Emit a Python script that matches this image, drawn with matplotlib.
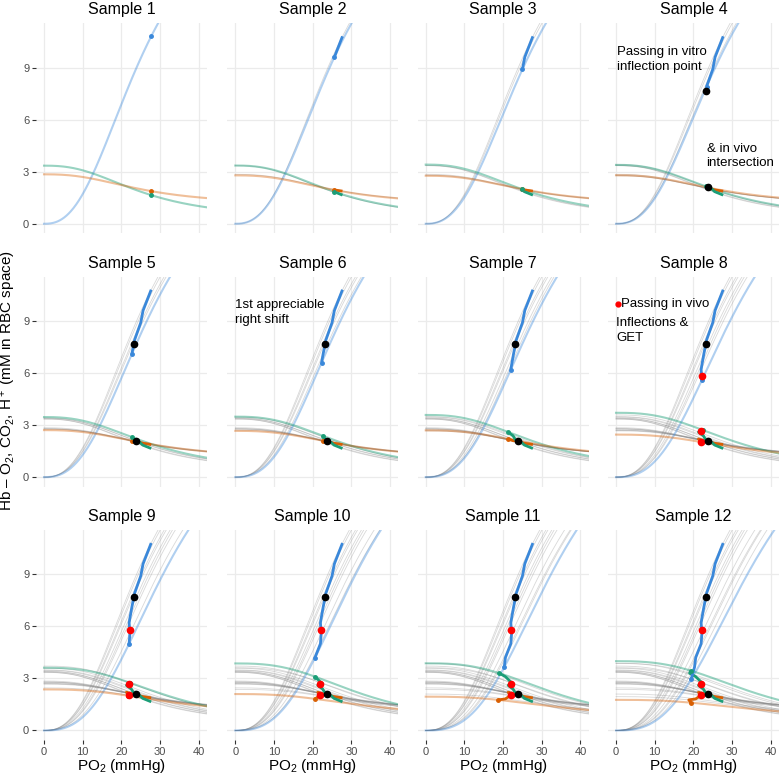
import numpy as np
import matplotlib
matplotlib.use("Agg")
import matplotlib.pyplot as plt

plt.rcParams['font.family'] = ['Liberation Sans', 'DejaVu Sans']
plt.rcParams['mathtext.fontset'] = 'custom'
plt.rcParams['mathtext.rm'] = 'Liberation Sans'
plt.rcParams['mathtext.it'] = 'Liberation Sans:italic'

samples = [f"Sample {i}" for i in range(1, 13)]

# in vivo points for each sample (PO2, content)
o2_po2 = [27.7, 25.6, 25.0, 23.4, 22.7, 22.3, 22.0, 22.2, 22.0, 20.6, 20.3, 19.4]
o2_val = [10.8, 9.6, 8.9, 7.9, 7.1, 6.6, 6.2, 5.6, 5.0, 4.2, 3.65, 2.94]
co2_po2 = [27.7, 25.5, 24.8, 23.2, 22.8, 22.6, 21.3, 22.6, 22.2, 20.6, 19.0, 19.4]
co2_val = [1.65, 1.85, 2.0, 2.15, 2.3, 2.38, 2.6, 2.7, 2.75, 3.1, 3.3, 3.44]
h_po2 = [27.7, 25.5, 24.8, 23.4, 22.8, 22.6, 21.3, 22.2, 21.8, 20.6, 18.8, 19.4]
h_val = [1.88, 1.95, 2.0, 2.1, 2.1, 2.1, 2.2, 2.02, 2.0, 1.82, 1.76, 1.6]

# Hill coefficient of each sample's dissociation curve
hill_n = [2.5, 2.5, 2.5, 2.5, 2.55, 2.6, 2.6, 2.65, 2.7, 2.75, 2.8, 2.8]
hb_max = 19.7          # mM heme in RBC
co2_drop = 0.925       # Haldane fraction for CO2
h_drop = 0.62          # Haldane fraction for H+

# marked points
vitro_inflection = (23.2, 7.67)
vivo_intersection = (23.8, 2.1)
vivo_infl_x = [22.1, 22.0, 22.0]
vivo_infl_y = [5.8, 2.65, 2.05]

blue = "#3A88DA"
green = "#1B9E77"
orange = "#D95F02"


def sat(p, p50, n):
    r = (p / p50) ** n
    return r / (1 + r)


# curve parameters for each sample so that its curves pass through its in vivo points
p50 = []
co2_0 = []
h_0 = []
for i in range(12):
    s = o2_val[i] / hb_max
    p = o2_po2[i] / (s / (1 - s)) ** (1 / hill_n[i])
    p50.append(p)
    co2_0.append(co2_val[i] / (1 - co2_drop * sat(co2_po2[i], p, hill_n[i])))
    h_0.append(h_val[i] / (1 - h_drop * sat(h_po2[i], p, hill_n[i])))

xs = np.linspace(0, 42.2, 300)

W, H = 779, 776
fig = plt.figure(figsize=(W / 100, H / 100), dpi=100)
lefts = [35.9, 227.2, 417.6, 607.9]
tops = [23.3, 276.7, 530.0]
pw, ph = 171, 210

for k in range(12):
    row, col = k // 4, k % 4
    ax = fig.add_axes([lefts[col] / W, 1 - (tops[row] + ph) / H, pw / W, ph / H])

    # earlier samples in grey
    for i in range(k):
        s = sat(xs, p50[i], hill_n[i])
        ax.plot(xs, hb_max * s, color="grey", alpha=0.3, lw=0.6)
        ax.plot(xs, co2_0[i] * (1 - co2_drop * s), color="grey", alpha=0.3, lw=0.6)
        ax.plot(xs, h_0[i] * (1 - h_drop * s), color="grey", alpha=0.3, lw=0.6)

    # current sample
    s = sat(xs, p50[k], hill_n[k])
    ax.plot(xs, hb_max * s, color=blue, alpha=0.4, lw=1.5)
    ax.plot(xs, co2_0[k] * (1 - co2_drop * s), color=green, alpha=0.45, lw=1.5)
    ax.plot(xs, h_0[k] * (1 - h_drop * s), color=orange, alpha=0.4, lw=1.5)

    # in vivo paths up to this sample
    ax.plot(h_po2[:k + 1], h_val[:k + 1], color=orange, lw=2, solid_capstyle='butt')
    ax.plot(co2_po2[:k + 1], co2_val[:k + 1], color=green, lw=2, solid_capstyle='butt')
    ax.plot(o2_po2[:k + 1], o2_val[:k + 1], color=blue, lw=2, solid_capstyle='butt')
    ax.plot(h_po2[k], h_val[k], 'o', color=orange, ms=2.5)
    ax.plot(co2_po2[k], co2_val[k], 'o', color=green, ms=2.5)
    ax.plot(o2_po2[k], o2_val[k], 'o', color=blue, ms=2.5)

    if k >= 7:
        ax.plot(vivo_infl_x, vivo_infl_y, 'o', color="red", ms=4.5, zorder=5)
    if k >= 3:
        ax.plot(*vitro_inflection, 'o', color="black", ms=4.5, zorder=5)
        ax.plot(*vivo_intersection, 'o', color="black", ms=4.5, zorder=5)

    if k == 3:
        ax.text(0.2, 9.45, "Passing in vitro\ninflection point", fontsize=9.5,
                va='center', linespacing=1.3)
        ax.text(23.4, 3.9, "& in vivo\nintersection", fontsize=9.5,
                va='center', linespacing=1.3, clip_on=False)
    if k == 5:
        ax.text(0.0, 9.5, "1st appreciable\nright shift", fontsize=9.5,
                va='center', linespacing=1.3)
    if k == 7:
        ax.plot(0.45, 10.0, 'o', color="red", ms=3.5)
        ax.text(1.3, 10.0, "Passing in vivo", fontsize=9.5, va='center')
        ax.text(0.1, 8.46, "Inflections &\nGET", fontsize=9.5,
                va='center', linespacing=1.3)

    ax.set_xlim(-2.1, 42.1)
    ax.set_ylim(-0.55, 11.55)
    ax.set_xticks([0, 10, 20, 30, 40])
    ax.set_yticks([0, 3, 6, 9])
    ax.grid(True, color="#EBEBEB", lw=0.9)
    ax.set_axisbelow(True)
    for sp in ax.spines.values():
        sp.set_visible(False)
    ax.set_title(samples[k], fontsize=11.5, pad=6.5)

    ax.tick_params(colors="#333333", labelcolor="#4D4D4D", labelsize=8,
                   length=2.8, width=0.8, pad=2)
    if col != 0:
        ax.tick_params(axis='y', length=0, labelleft=False)
    if row != 2:
        ax.tick_params(axis='x', length=0, labelbottom=False)
    else:
        ax.set_xlabel("PO$_2$ (mmHg)", fontsize=11, labelpad=0)

fig.text(9 / W, 1 - 381 / H, "Hb \u2013 O$_2$, CO$_2$, H$^+$ (mM in RBC space)",
         rotation=90, ha='center', va='center', fontsize=11)

fig.savefig("out.png", dpi=100)
